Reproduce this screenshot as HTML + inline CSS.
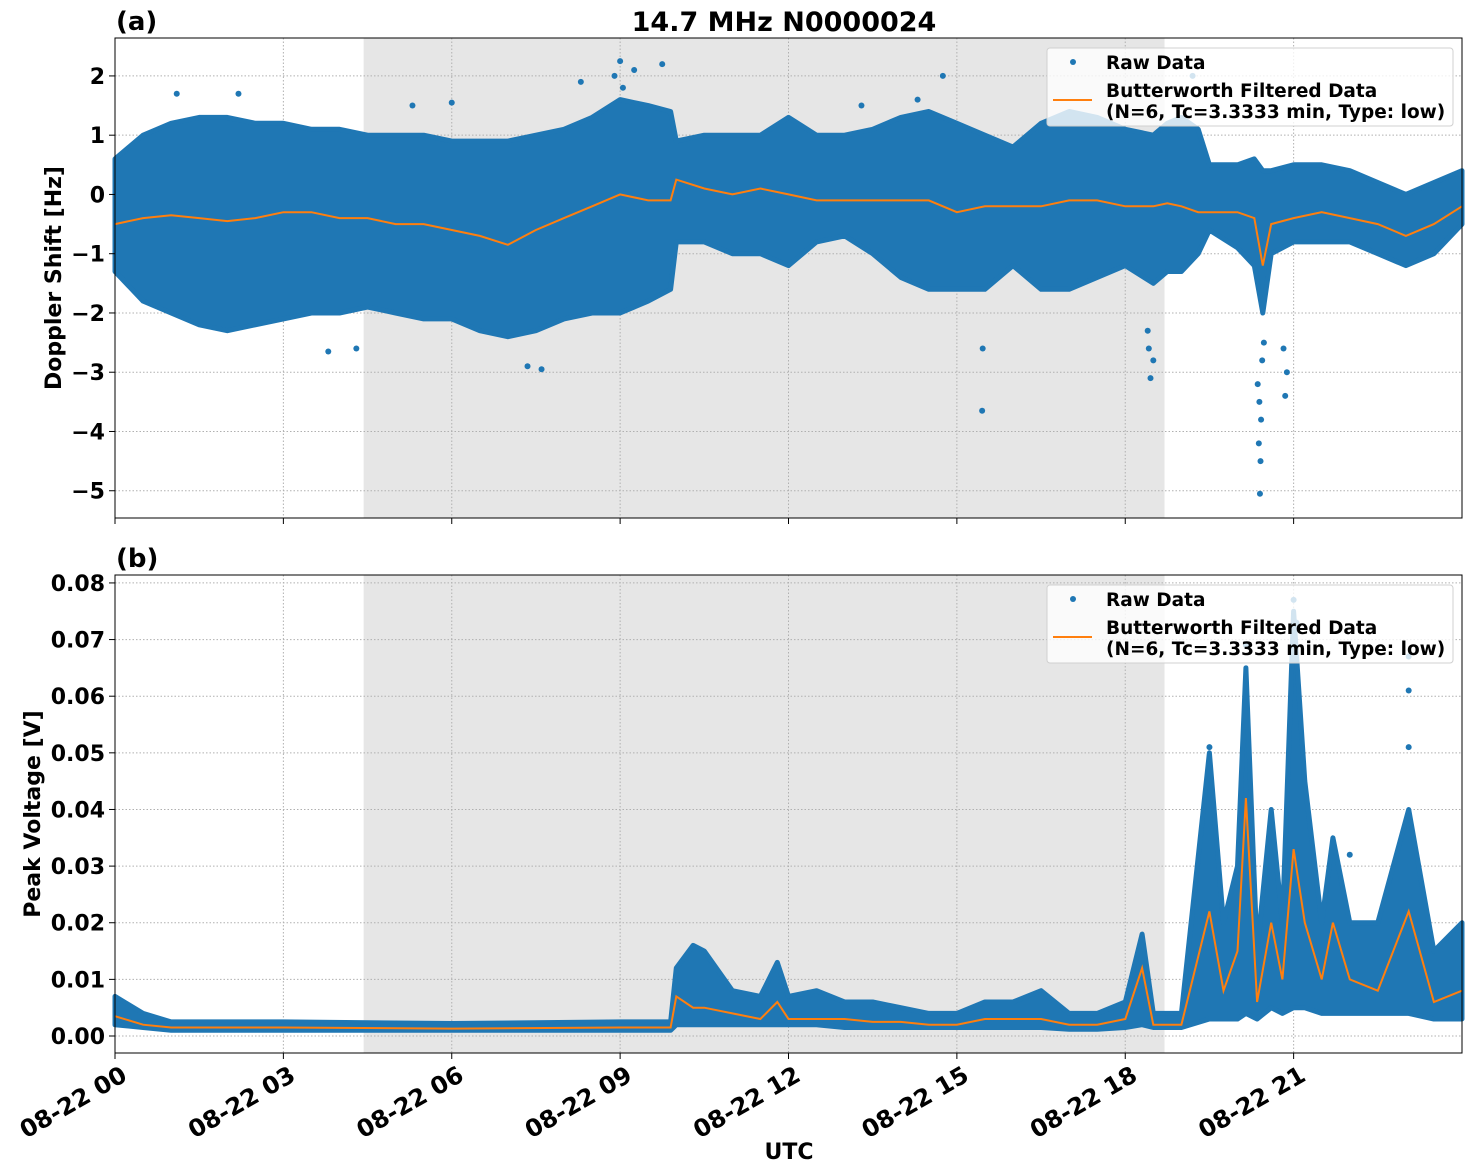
<!DOCTYPE html>
<html><head><meta charset="utf-8"><style>
html,body{margin:0;padding:0;background:#fff}
svg{display:block;font-family:"DejaVu Sans","Liberation Sans",sans-serif;font-weight:bold}
</style></head><body>
<svg id="chart" width="1472" height="1172" xmlns="http://www.w3.org/2000/svg"></svg>
<script>
// ---- data ----
const xTickLabels = ["08-22 00","08-22 03","08-22 06","08-22 09","08-22 12","08-22 15","08-22 18","08-22 21"];
const xTickHours = [0,3,6,9,12,15,18,21];
const nightStart = 4.43, nightEnd = 18.7;

// Panel (a): Doppler shift
const dTimes = [0,0.5,1,1.5,2,2.5,3,3.5,4,4.5,5,5.5,6,6.5,7,7.5,8,8.5,9,9.5,9.9,10,10.5,11,11.5,12,12.5,13,13.5,14,14.5,15,15.5,16,16.5,17,17.5,18,18.5,18.75,19,19.3,19.5,20,20.3,20.45,20.6,21,21.5,22,22.5,23,23.5,24];
const dHi = [0.6,1.0,1.2,1.3,1.3,1.2,1.2,1.1,1.1,1.0,1.0,1.0,0.9,0.9,0.9,1.0,1.1,1.3,1.6,1.5,1.4,0.9,1.0,1.0,1.0,1.3,1.0,1.0,1.1,1.3,1.4,1.2,1.0,0.8,1.2,1.4,1.3,1.1,1.0,1.2,1.3,1.1,0.5,0.5,0.6,0.4,0.4,0.5,0.5,0.4,0.2,0.0,0.2,0.4];
const dLo = [-1.3,-1.8,-2.0,-2.2,-2.3,-2.2,-2.1,-2.0,-2.0,-1.9,-2.0,-2.1,-2.1,-2.3,-2.4,-2.3,-2.1,-2.0,-2.0,-1.8,-1.6,-0.8,-0.8,-1.0,-1.0,-1.2,-0.8,-0.7,-1.0,-1.4,-1.6,-1.6,-1.6,-1.2,-1.6,-1.6,-1.4,-1.2,-1.5,-1.3,-1.3,-1.0,-0.6,-0.9,-1.2,-2.0,-1.0,-0.8,-0.8,-0.8,-1.0,-1.2,-1.0,-0.5];
const dFilt = [-0.5,-0.4,-0.35,-0.4,-0.45,-0.4,-0.3,-0.3,-0.4,-0.4,-0.5,-0.5,-0.6,-0.7,-0.85,-0.6,-0.4,-0.2,0.0,-0.1,-0.1,0.25,0.1,0.0,0.1,0.0,-0.1,-0.1,-0.1,-0.1,-0.1,-0.3,-0.2,-0.2,-0.2,-0.1,-0.1,-0.2,-0.2,-0.15,-0.2,-0.3,-0.3,-0.3,-0.4,-1.2,-0.5,-0.4,-0.3,-0.4,-0.5,-0.7,-0.5,-0.2];
const dOutT = [20.4,20.41,20.38,20.42,20.36,20.44,20.47,20.39,20.85,20.88,20.82,18.45,18.5,18.4,18.42,15.45,15.46,7.35,7.6,9.0,9.25,9.75,14.75,19.2,8.3,2.2,3.8,4.3,1.1,5.3,6.0,8.9,9.05,13.3,14.3];
const dOutV = [-5.05,-4.5,-4.2,-3.8,-3.2,-2.8,-2.5,-3.5,-3.4,-3.0,-2.6,-3.1,-2.8,-2.3,-2.6,-3.65,-2.6,-2.9,-2.95,2.25,2.1,2.2,2.0,2.0,1.9,1.7,-2.65,-2.6,1.7,1.5,1.55,2.0,1.8,1.5,1.6];
const dYTicks = [2,1,0,-1,-2,-3,-4,-5];
const dYLabels = ["2","1","0","\u22121","\u22122","\u22123","\u22124","\u22125"];

// Panel (b): Peak voltage
const vTimes = [0,0.5,1,3,6,9,9.9,10,10.3,10.5,11,11.5,11.8,12,12.5,13,13.5,14,14.5,15,15.5,16,16.5,17,17.5,18,18.3,18.5,19,19.5,19.75,20,20.15,20.35,20.6,20.8,21,21.2,21.5,21.7,22,22.5,23.05,23.5,24];
const vHi = [0.007,0.004,0.0025,0.0025,0.0022,0.0025,0.0025,0.012,0.016,0.015,0.008,0.007,0.013,0.007,0.008,0.006,0.006,0.005,0.004,0.004,0.006,0.006,0.008,0.004,0.004,0.006,0.018,0.004,0.004,0.05,0.02,0.03,0.065,0.015,0.04,0.02,0.075,0.045,0.02,0.035,0.02,0.02,0.04,0.015,0.02];
const vLo = [0.002,0.0015,0.001,0.001,0.001,0.001,0.001,0.002,0.002,0.002,0.002,0.002,0.002,0.002,0.002,0.0015,0.0015,0.0015,0.0015,0.0015,0.0015,0.0015,0.0015,0.0012,0.0012,0.0015,0.002,0.0015,0.0015,0.003,0.003,0.003,0.004,0.003,0.005,0.004,0.005,0.005,0.004,0.004,0.004,0.004,0.004,0.003,0.003];
const vFilt = [0.0035,0.002,0.0015,0.0015,0.0013,0.0015,0.0015,0.007,0.005,0.005,0.004,0.003,0.006,0.003,0.003,0.003,0.0025,0.0025,0.002,0.002,0.003,0.003,0.003,0.002,0.002,0.003,0.012,0.002,0.002,0.022,0.008,0.015,0.042,0.006,0.02,0.01,0.033,0.02,0.01,0.02,0.01,0.008,0.022,0.006,0.008];
const vOutT = [23.05,23.05,23.05,21.0,21.05,20.15,19.5,22.0];
const vOutV = [0.067,0.061,0.051,0.077,0.073,0.069,0.051,0.032];
const vYTicks = [0,0.01,0.02,0.03,0.04,0.05,0.06,0.07,0.08];
const vYLabels = ["0.00","0.01","0.02","0.03","0.04","0.05","0.06","0.07","0.08"];

// ---- rendering ----
const NS="http://www.w3.org/2000/svg";
const svg=document.getElementById('chart');
function el(tag,attrs,parent){const e=document.createElementNS(NS,tag);for(const k in attrs)e.setAttribute(k,attrs[k]);(parent||svg).appendChild(e);return e;}
const L=115,R=1462;
const xS=h=>L+(R-L)*h/24;

function panel(cfg){
  const g=el('g',{});
  
  
  const yS=v=>cfg.top+(cfg.bot-cfg.top)*(cfg.ymax-v)/(cfg.ymax-cfg.ymin);
  const sh=el('rect',{x:xS(nightStart),y:cfg.top,width:xS(nightEnd)-xS(nightStart),height:cfg.bot-cfg.top,fill:'#e6e6e6'},g);
  
  
  xTickHours.forEach(h=>{const l=el('line',{x1:xS(h),x2:xS(h),y1:cfg.top,y2:cfg.bot,stroke:'#b0b0b0','stroke-dasharray':'1.5,2','stroke-width':1},g);
    });
  cfg.yt.forEach(v=>{const l=el('line',{x1:L,x2:R,y1:yS(v),y2:yS(v),stroke:'#b0b0b0','stroke-dasharray':'1.5,2','stroke-width':1},g);
    });
  let pts=[];
  cfg.t.forEach((t,i)=>pts.push(xS(t).toFixed(1)+','+yS(cfg.hi[i]).toFixed(1)));
  for(let i=cfg.t.length-1;i>=0;i--)pts.push(xS(cfg.t[i]).toFixed(1)+','+yS(cfg.lo[i]).toFixed(1));
  const band=el('polygon',{points:pts.join(' '),fill:'#1f77b4',stroke:'#1f77b4','stroke-width':5,'stroke-linejoin':'round'},g);
  
  
  cfg.ot.forEach((t,i)=>{const c=el('circle',{cx:xS(t),cy:yS(cfg.ov[i]),r:3,fill:'#1f77b4'},g);
    });
  const line=el('polyline',{points:cfg.t.map((t,i)=>xS(t).toFixed(1)+','+yS(cfg.f[i]).toFixed(1)).join(' '),fill:'none',stroke:'#ff7f0e','stroke-width':2},g);
  
  
  const fr=el('rect',{x:L,y:cfg.top,width:R-L,height:cfg.bot-cfg.top,fill:'none',stroke:'#000','stroke-width':1},g);
  
  cfg.yt.forEach((v,i)=>{
    el('line',{x1:L-6,x2:L,y1:yS(v),y2:yS(v),stroke:'#000'},g);
    const t=el('text',{x:L-10,y:yS(v)+8,'text-anchor':'end','font-size':22},g);
    t.textContent=cfg.yl[i];
  });
  xTickHours.forEach(h=>el('line',{x1:xS(h),x2:xS(h),y1:cfg.bot,y2:cfg.bot+6,stroke:'#000'},g));
  const yt=el('text',{transform:`translate(${cfg.ylx},${(cfg.top+cfg.bot)/2}) rotate(-90)`,'text-anchor':'middle','font-size':22},g);
  yt.textContent=cfg.ylabel;
  const pl=el('text',{x:116,y:cfg.top-8,'font-size':26},g);
  pl.textContent=cfg.letter;
  const lg=el('g',{transform:`translate(1047,${cfg.top+10})`},g);
  
  el('rect',{x:0,y:0,width:406,height:78,rx:3,fill:'#fff','fill-opacity':0.8,stroke:'#d0d0d0'},lg);
  el('circle',{cx:26,cy:14,r:3,fill:'#1f77b4'},lg);
  const t1=el('text',{x:59,y:21,'font-size':18.5},lg);t1.textContent='Raw Data';
  
  el('line',{x1:6,x2:45,y1:52,y2:52,stroke:'#ff7f0e','stroke-width':2},lg);
  const t2=el('text',{x:59,y:49,'font-size':18.5},lg);t2.textContent='Butterworth Filtered Data';
  
  const t3=el('text',{x:59,y:70,'font-size':18.5},lg);t3.textContent='(N=6, Tc=3.3333 min, Type: low)';
  
}
panel({name:'doppler-panel',top:38,bot:518,ymax:2.64,ymin:-5.46,t:dTimes,hi:dHi,lo:dLo,f:dFilt,ot:dOutT,ov:dOutV,yt:dYTicks,yl:dYLabels,ylabel:'Doppler Shift [Hz]',ylx:61,letter:'(a)'});
panel({name:'voltage-panel',top:575,bot:1053,ymax:0.0814,ymin:-0.003,t:vTimes,hi:vHi,lo:vLo,f:vFilt,ot:vOutT,ov:vOutV,yt:vYTicks,yl:vYLabels,ylabel:'Peak Voltage [V]',ylx:40,letter:'(b)'});

xTickHours.forEach((h,i)=>{
  const t=el('text',{transform:`translate(${xS(h)+4},${1063}) rotate(-30)`,'text-anchor':'end','font-size':24,dy:'0.8em'});
  t.textContent=xTickLabels[i];
});
const title=el('text',{x:784,y:31,'text-anchor':'middle','font-size':27});
title.textContent='14.7 MHz N0000024';


const xt=el('text',{x:789,y:1159,'text-anchor':'middle','font-size':22});
xt.textContent='UTC';


</script>
</body></html>
